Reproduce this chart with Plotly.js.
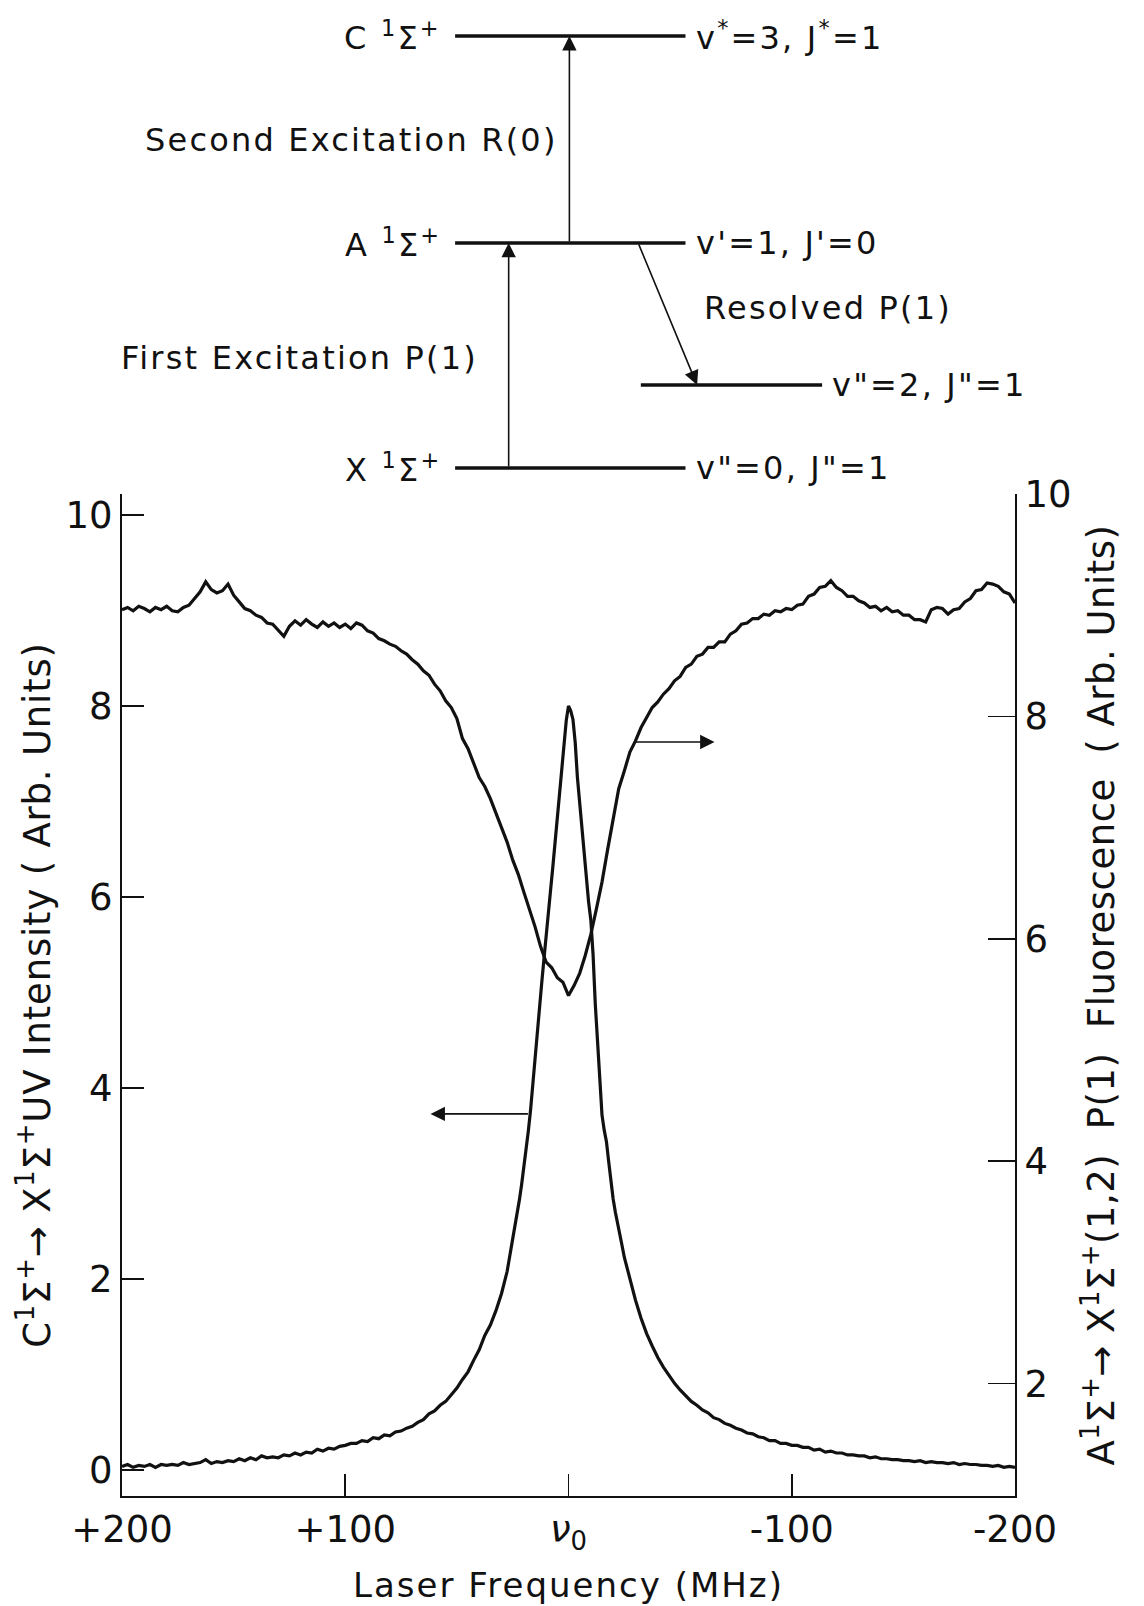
<!DOCTYPE html>
<html>
<head>
<meta charset="utf-8">
<script src="https://cdn.plot.ly/plotly-3.0.1.min.js"></script>
<style>
  html, body { margin: 0; padding: 0; background: #ffffff; }
  #chart { width: 1144px; height: 1606px; }
  /* hand-lettered look: open tracking on the labels (unscoped so text measuring sees it too) */
  .annotation-text { letter-spacing: 2.2px; }
  .ytitle { letter-spacing: 0.8px; }
  .y2title { letter-spacing: 0.5px; }
  .xtitle { letter-spacing: 2px; }
</style>
</head>
<body>
<div id="chart"></div>
<script>
// ---- Laser scan data (frequency offset from line centre, MHz) ----

// C 1Σ+ -> X 1Σ+ UV intensity (left axis)
const uvFreq = [
  200, 197.5, 195, 192.5, 190, 187.5, 185, 182.5, 180, 177.5,
  175, 172.5, 170, 167.5, 165, 162.5, 160, 157.5, 155, 152.5,
  150, 147.5, 145, 142.5, 140, 137.5, 135, 132.5, 130, 127.5,
  125, 122.5, 120, 117.5, 115, 112.5, 110, 107.5, 105, 102.5,
  100, 97.5, 95, 92.5, 90, 87.5, 85, 82.5, 80, 77.5,
  75, 72.5, 70, 67.5, 65, 62.5, 60, 57.5, 55, 52.5,
  50, 47.5, 45, 42.5, 40, 37.5, 35, 32.5, 30, 27.5,
  25, 24, 23, 22, 21, 20, 19, 18, 17, 16,
  15, 14, 13, 12, 11, 10, 9, 8, 7, 6,
  5, 4, 3, 2, 1, 0, -1, -2, -3, -4,
  -5, -6, -7, -8, -9, -10, -11, -12, -13, -14,
  -15, -16, -17, -18, -19, -20, -21, -22, -23, -24, -25,
  -27.5, -30, -32.5, -35, -37.5, -40, -42.5, -45, -47.5, -50,
  -52.5, -55, -57.5, -60, -62.5, -65, -67.5, -70, -72.5, -75,
  -77.5, -80, -82.5, -85, -87.5, -90, -92.5, -95, -97.5, -100,
  -102.5, -105, -107.5, -110, -112.5, -115, -117.5, -120, -122.5, -125,
  -127.5, -130, -132.5, -135, -137.5, -140, -142.5, -145, -147.5, -150,
  -152.5, -155, -157.5, -160, -162.5, -165, -167.5, -170, -172.5, -175,
  -177.5, -180, -182.5, -185, -187.5, -190, -192.5, -195, -197.5, -200
];
const uvSignal = [
  0.04, 0.06, 0.03, 0.05, 0.04, 0.06, 0.03, 0.06, 0.05, 0.06,
  0.05, 0.08, 0.06, 0.07, 0.08, 0.11, 0.07, 0.09, 0.08, 0.10,
  0.09, 0.12, 0.10, 0.13, 0.11, 0.15, 0.13, 0.14, 0.13, 0.16,
  0.15, 0.18, 0.16, 0.19, 0.18, 0.22, 0.20, 0.23, 0.22, 0.25,
  0.26, 0.28, 0.28, 0.31, 0.30, 0.34, 0.33, 0.37, 0.36, 0.40,
  0.41, 0.44, 0.46, 0.50, 0.53, 0.59, 0.62, 0.68, 0.72, 0.79,
  0.86, 0.95, 1.03, 1.15, 1.26, 1.41, 1.52, 1.67, 1.85, 2.08,
  2.40, 2.55, 2.68, 2.83, 2.99, 3.16, 3.35, 3.55, 3.77, 4.05,
  4.30, 4.56, 4.84, 5.10, 5.35, 5.57, 5.82, 6.08, 6.32, 6.57,
  6.82, 7.05, 7.31, 7.57, 7.85, 8.00, 7.95, 7.86, 7.62, 7.25,
  6.98, 6.72, 6.43, 6.17, 5.95, 5.76, 5.40, 4.88, 4.45, 4.02,
  3.72, 3.56, 3.44, 3.23, 3.01, 2.84, 2.70, 2.57, 2.46, 2.35, 2.23,
  2.00, 1.78, 1.59, 1.43, 1.30, 1.18, 1.08, 0.99, 0.91, 0.84,
  0.78, 0.72, 0.68, 0.63, 0.60, 0.55, 0.53, 0.49, 0.47, 0.44,
  0.42, 0.39, 0.38, 0.35, 0.34, 0.31, 0.31, 0.28, 0.28, 0.26,
  0.26, 0.24, 0.24, 0.21, 0.22, 0.19, 0.20, 0.18, 0.18, 0.16,
  0.16, 0.15, 0.15, 0.13, 0.14, 0.12, 0.12, 0.11, 0.11, 0.10,
  0.10, 0.09, 0.10, 0.08, 0.09, 0.08, 0.08, 0.07, 0.08, 0.06,
  0.07, 0.06, 0.06, 0.05, 0.05, 0.04, 0.05, 0.03, 0.04, 0.03
];

// A 1Σ+ -> X 1Σ+ (1,2) P(1) fluorescence (right axis)
const flFreq = [
  200, 197.5, 195, 192.5, 190, 187.5, 185, 182.5, 180, 177.5,
  175, 172.5, 170, 167.5, 165, 162.5, 160, 157.5, 155, 152.5,
  150, 147.5, 145, 142.5, 140, 137.5, 135, 132.5, 130, 127.5,
  125, 122.5, 120, 117.5, 115, 112.5, 110, 107.5, 105, 102.5,
  100, 97.5, 95, 92.5, 90, 87.5, 85, 82.5, 80, 77.5,
  75, 72.5, 70, 67.5, 65, 62.5, 60, 57.5, 55, 52.5,
  50, 47.5, 45, 42.5, 40, 37.5, 35, 32.5, 30, 27.5,
  25, 22.5, 20, 17.5, 15, 12.5, 10, 7.5, 5, 2.5,
  0, -2.5, -5, -7.5, -10, -12.5, -15, -17.5, -20, -22.5,
  -25, -27.5, -30, -32.5, -35, -37.5, -40, -42.5, -45, -47.5,
  -50, -52.5, -55, -57.5, -60, -62.5, -65, -67.5, -70, -72.5,
  -75, -77.5, -80, -82.5, -85, -87.5, -90, -92.5, -95, -97.5,
  -100, -102.5, -105, -107.5, -110, -112.5, -115, -117.5, -120, -122.5,
  -125, -127.5, -130, -132.5, -135, -137.5, -140, -142.5, -145, -147.5,
  -150, -152.5, -155, -157.5, -160, -162.5, -165, -167.5, -170, -172.5,
  -175, -177.5, -180, -182.5, -185, -187.5, -190, -192.5, -195, -197.5,
  -200
];
const flSignal = [
  8.96, 8.98, 8.95, 8.99, 8.97, 8.94, 8.98, 8.96, 8.99, 8.95,
  8.94, 8.98, 9.00, 9.06, 9.12, 9.21, 9.14, 9.11, 9.13, 9.19,
  9.09, 9.03, 8.97, 8.95, 8.91, 8.89, 8.84, 8.83, 8.77, 8.72,
  8.81, 8.86, 8.82, 8.87, 8.83, 8.80, 8.85, 8.81, 8.84, 8.80,
  8.83, 8.79, 8.84, 8.82, 8.77, 8.75, 8.70, 8.68, 8.65, 8.63,
  8.59, 8.56, 8.51, 8.47, 8.41, 8.37, 8.29, 8.23, 8.14, 8.08,
  7.98, 7.80, 7.71, 7.57, 7.45, 7.37, 7.26, 7.13, 7.00, 6.87,
  6.71, 6.58, 6.42, 6.27, 6.11, 5.93, 5.79, 5.74, 5.65, 5.61,
  5.49, 5.58, 5.69, 5.85, 6.04, 6.27, 6.51, 6.80, 7.06, 7.35,
  7.51, 7.68, 7.78, 7.90, 7.99, 8.08, 8.13, 8.20, 8.25, 8.32,
  8.36, 8.44, 8.47, 8.54, 8.56, 8.62, 8.62, 8.67, 8.67, 8.74,
  8.77, 8.83, 8.84, 8.88, 8.88, 8.92, 8.91, 8.95, 8.94, 8.97,
  8.96, 9.00, 9.01, 9.08, 9.10, 9.16, 9.17, 9.22, 9.16, 9.13,
  9.08, 9.08, 9.04, 9.02, 8.98, 8.99, 8.95, 8.98, 8.94, 8.95,
  8.91, 8.91, 8.87, 8.87, 8.85, 8.96, 8.98, 8.97, 8.92, 8.96,
  8.97, 9.03, 9.06, 9.13, 9.14, 9.20, 9.19, 9.17, 9.12, 9.10,
  9.02
];

// Axis ticks
const freqTickVals = [200, 100, 0, -100, -200];
const freqTickText = ['+200', '+100', '<i>ν</i><sub>0</sub>', '-100', '-200'];
const uvTickVals = [0, 2, 4, 6, 8, 10];
const flTickVals = [2, 4, 6, 8, 10];

// ---- Energy level scheme ----
const levelNames  = ['C <sup>1</sup>Σ<sup>+</sup>', 'A <sup>1</sup>Σ<sup>+</sup>', '', 'X <sup>1</sup>Σ<sup>+</sup>'];
const levelStates = ['v<sup>*</sup>=3, J<sup>*</sup>=1', "v'=1, J'=0", 'v"=2, J"=1', 'v"=0, J"=1'];
const levelEnergy = [10, 5.21, 1.92, 0];   // schematic ordinate
const transitionNames = ['First Excitation P(1)', 'Second Excitation R(0)', 'Resolved P(1)'];
const transitionFrom  = [3, 1, 1];          // index into levels
const transitionTo    = [1, 0, 2];

// ---- drawing ----
const INK = '#111111';
const FONT = 'DejaVu Sans, Verdana, sans-serif';

// horizontal extent of each level bar (diagram x units, 0..100)
const levelSpan = [[37.3, 63.1], [37.3, 63.1], [58.1, 78.4], [37.3, 63.1]];
// where each transition arrow leaves / arrives (diagram x units)
const transitionX = [[43.3, 43.3], [50.1, 50.1], [57.8, 64.4]];

const levelX = [], levelY = [];
levelEnergy.forEach((e, i) => {
  levelX.push(levelSpan[i][0], levelSpan[i][1], null);
  levelY.push(e, e, null);
});

const traces = [
  {
    x: uvFreq, y: uvSignal, xaxis: 'x', yaxis: 'y',
    type: 'scatter', mode: 'lines',
    line: {color: INK, width: 3.2}, hoverinfo: 'skip'
  },
  {
    x: flFreq, y: flSignal, xaxis: 'x', yaxis: 'y2',
    type: 'scatter', mode: 'lines',
    line: {color: INK, width: 3.2}, hoverinfo: 'skip'
  },
  {
    x: levelX, y: levelY, xaxis: 'x2', yaxis: 'y3',
    type: 'scatter', mode: 'lines',
    line: {color: INK, width: 3.5}, hoverinfo: 'skip'
  }
];

const annotations = [];
const diagFont = {family: FONT, size: 32, color: INK};

// level names on the left, quantum numbers on the right
levelEnergy.forEach((e, i) => {
  if (levelNames[i]) {
    annotations.push({xref: 'x2', yref: 'y3', x: 36.0, y: e, text: levelNames[i],
      showarrow: false, xanchor: 'right', yanchor: 'middle', font: diagFont});
  }
  annotations.push({xref: 'x2', yref: 'y3', x: levelSpan[i][1] + 0.9, y: e, text: levelStates[i],
    showarrow: false, xanchor: 'left', yanchor: 'middle', font: diagFont});
});

// transition arrows
transitionNames.forEach((name, k) => {
  annotations.push({
    xref: 'x2', yref: 'y3', axref: 'x2', ayref: 'y3',
    x: transitionX[k][1], y: levelEnergy[transitionTo[k]],
    ax: transitionX[k][0], ay: levelEnergy[transitionFrom[k]],
    text: '', showarrow: true, arrowhead: 2, arrowsize: 1.8, arrowwidth: 1.6,
    arrowcolor: INK, standoff: 0, startstandoff: 0
  });
});

// transition labels
annotations.push({xref: 'x2', yref: 'y3', x: 40.1, y: 2.55, text: transitionNames[0],
  showarrow: false, xanchor: 'right', yanchor: 'middle', font: diagFont});
annotations.push({xref: 'x2', yref: 'y3', x: 49.0, y: 7.59, text: transitionNames[1],
  showarrow: false, xanchor: 'right', yanchor: 'middle', font: diagFont});
annotations.push({xref: 'x2', yref: 'y3', x: 64.9, y: 3.70, text: transitionNames[2],
  showarrow: false, xanchor: 'left', yanchor: 'middle', font: diagFont});

// arrows telling which axis each trace belongs to
annotations.push({
  xref: 'x', yref: 'y', axref: 'x', ayref: 'y',
  x: 61.8, y: 3.73, ax: 17.5, ay: 3.73,
  text: '', showarrow: true, arrowhead: 2, arrowsize: 1.8, arrowwidth: 1.6,
  arrowcolor: INK, standoff: 0
});
annotations.push({
  xref: 'x', yref: 'y2', axref: 'x', ayref: 'y2',
  x: -65.4, y: 7.77, ax: -29.6, ay: 7.77,
  text: '', showarrow: true, arrowhead: 2, arrowsize: 1.8, arrowwidth: 1.6,
  arrowcolor: INK, standoff: 0
});

const axisCommon = {
  showgrid: false, zeroline: false, showline: true,
  linecolor: INK, linewidth: 2,
  ticks: 'inside', tickcolor: INK, tickwidth: 1.6,
  tickfont: {family: FONT, size: 37, color: INK},
  fixedrange: true
};

const layout = {
  width: 1144, height: 1606,
  margin: {l: 122, r: 129, t: 10, b: 110, pad: 0},
  paper_bgcolor: '#ffffff', plot_bgcolor: 'rgba(0,0,0,0)',
  showlegend: false, hovermode: false,
  font: {family: FONT, color: INK},
  xaxis: Object.assign({}, axisCommon, {
    domain: [0, 1], anchor: 'y', range: [200, -200],
    tickmode: 'array', tickvals: freqTickVals, ticktext: freqTickText,
    ticklen: 22,
    title: {text: 'Laser Frequency (MHz)', font: {family: FONT, size: 34, color: INK}, standoff: 18}
  }),
  yaxis: Object.assign({}, axisCommon, {
    domain: [0, 0.6743], anchor: 'x', range: [-0.27, 10.22],
    tickmode: 'array', tickvals: uvTickVals, ticklen: 22,
    title: {text: 'C<sup>1</sup>Σ<sup>+</sup>→ X<sup>1</sup>Σ<sup>+</sup>UV Intensity ( Arb. Units)',
            font: {family: FONT, size: 37, color: INK}, standoff: 4}
  }),
  yaxis2: Object.assign({}, axisCommon, {
    overlaying: 'y', side: 'right', anchor: 'x', range: [0.99, 10.0],
    tickmode: 'array', tickvals: flTickVals, ticklen: 27,
    title: {text: 'A<sup>1</sup>Σ<sup>+</sup>→ X<sup>1</sup>Σ<sup>+</sup>(1,2)  P(1)  Fluorescence  ( Arb. Units)',
            font: {family: FONT, size: 37, color: INK}, standoff: 18}
  }),
  xaxis2: {domain: [0, 1], anchor: 'y3', range: [0, 100], visible: false, fixedrange: true},
  yaxis3: {domain: [0.67725, 0.99704], anchor: 'x2', range: [-0.5, 10.5], visible: false, fixedrange: true},
  annotations: annotations
};

Plotly.newPlot('chart', traces, layout, {staticPlot: true, displayModeBar: false});
</script>
</body>
</html>
